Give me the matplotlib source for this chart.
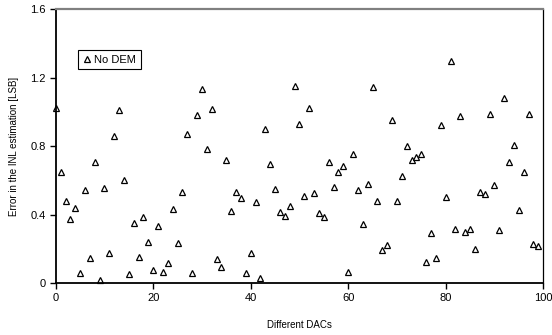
import matplotlib
matplotlib.use("Agg")
import matplotlib.pyplot as plt

plt.rcParams['font.family'] = ['Liberation Sans', 'DejaVu Sans']

dac_index = list(range(100))
inl_error = [
    1.025, 0.648, 0.482, 0.376, 0.443, 0.058, 0.546, 0.146, 0.708, 0.019,
    0.556, 0.176, 0.858, 1.011, 0.603, 0.053, 0.351, 0.156, 0.390, 0.240,
    0.078, 0.334, 0.066, 0.117, 0.433, 0.234, 0.533, 0.870, 0.058, 0.981,
    1.138, 0.786, 1.017, 0.144, 0.097, 0.722, 0.421, 0.533, 0.501, 0.062,
    0.176, 0.476, 0.031, 0.900, 0.697, 0.550, 0.416, 0.396, 0.454, 1.153,
    0.931, 0.513, 1.022, 0.525, 0.410, 0.390, 0.706, 0.562, 0.653, 0.687,
    0.068, 0.757, 0.544, 0.345, 0.581, 1.149, 0.482, 0.195, 0.224, 0.956,
    0.482, 0.628, 0.800, 0.722, 0.739, 0.755, 0.123, 0.293, 0.146, 0.925,
    0.507, 1.296, 0.318, 0.975, 0.298, 0.318, 0.199, 0.535, 0.521, 0.991,
    0.574, 0.310, 1.081, 0.708, 0.808, 0.429, 0.652, 0.991, 0.232, 0.218,
]
series_label = "No DEM"
x_ticks = [0, 20, 40, 60, 80, 100]
y_ticks = [0, 0.4, 0.8, 1.2, 1.6]
y_tick_labels = ["0", "0.4", "0.8", "1.2", "1.6"]

fig = plt.figure(figsize=(5.52, 3.35), dpi=100)
ax = fig.add_axes([0.101, 0.154, 0.883, 0.818])

ax.plot(dac_index, inl_error, linestyle='none', marker='^', markersize=4.3,
        markerfacecolor='white', markeredgecolor='black', markeredgewidth=0.9,
        label=series_label, clip_on=False)

ax.set_xlim(0, 100)
ax.set_ylim(0, 1.6)
ax.set_xticks(x_ticks)
ax.set_yticks(y_ticks)
ax.set_yticklabels(y_tick_labels)
ax.tick_params(axis='both', direction='out', length=4, width=1, labelsize=8, pad=3)

for side in ['left', 'bottom']:
    ax.spines[side].set_color('black')
    ax.spines[side].set_linewidth(1.3)
ax.spines['right'].set_color('black')
ax.spines['right'].set_linewidth(0.9)
ax.spines['top'].set_color('#808080')
ax.spines['top'].set_linewidth(1.6)

ax.set_xlabel("Different DACs", fontsize=7, labelpad=12)
ax.set_ylabel("Error in the INL estimation [LSB]", fontsize=7, labelpad=8)

leg = ax.legend(loc='upper left', bbox_to_anchor=(0.045, 0.851), borderaxespad=0,
                fancybox=False, framealpha=1, edgecolor='black', fontsize=8,
                handlelength=0.8, handletextpad=0.3, borderpad=0.4, markerscale=1.0)
leg.get_frame().set_linewidth(0.8)

fig.savefig("out.png", dpi=100)
